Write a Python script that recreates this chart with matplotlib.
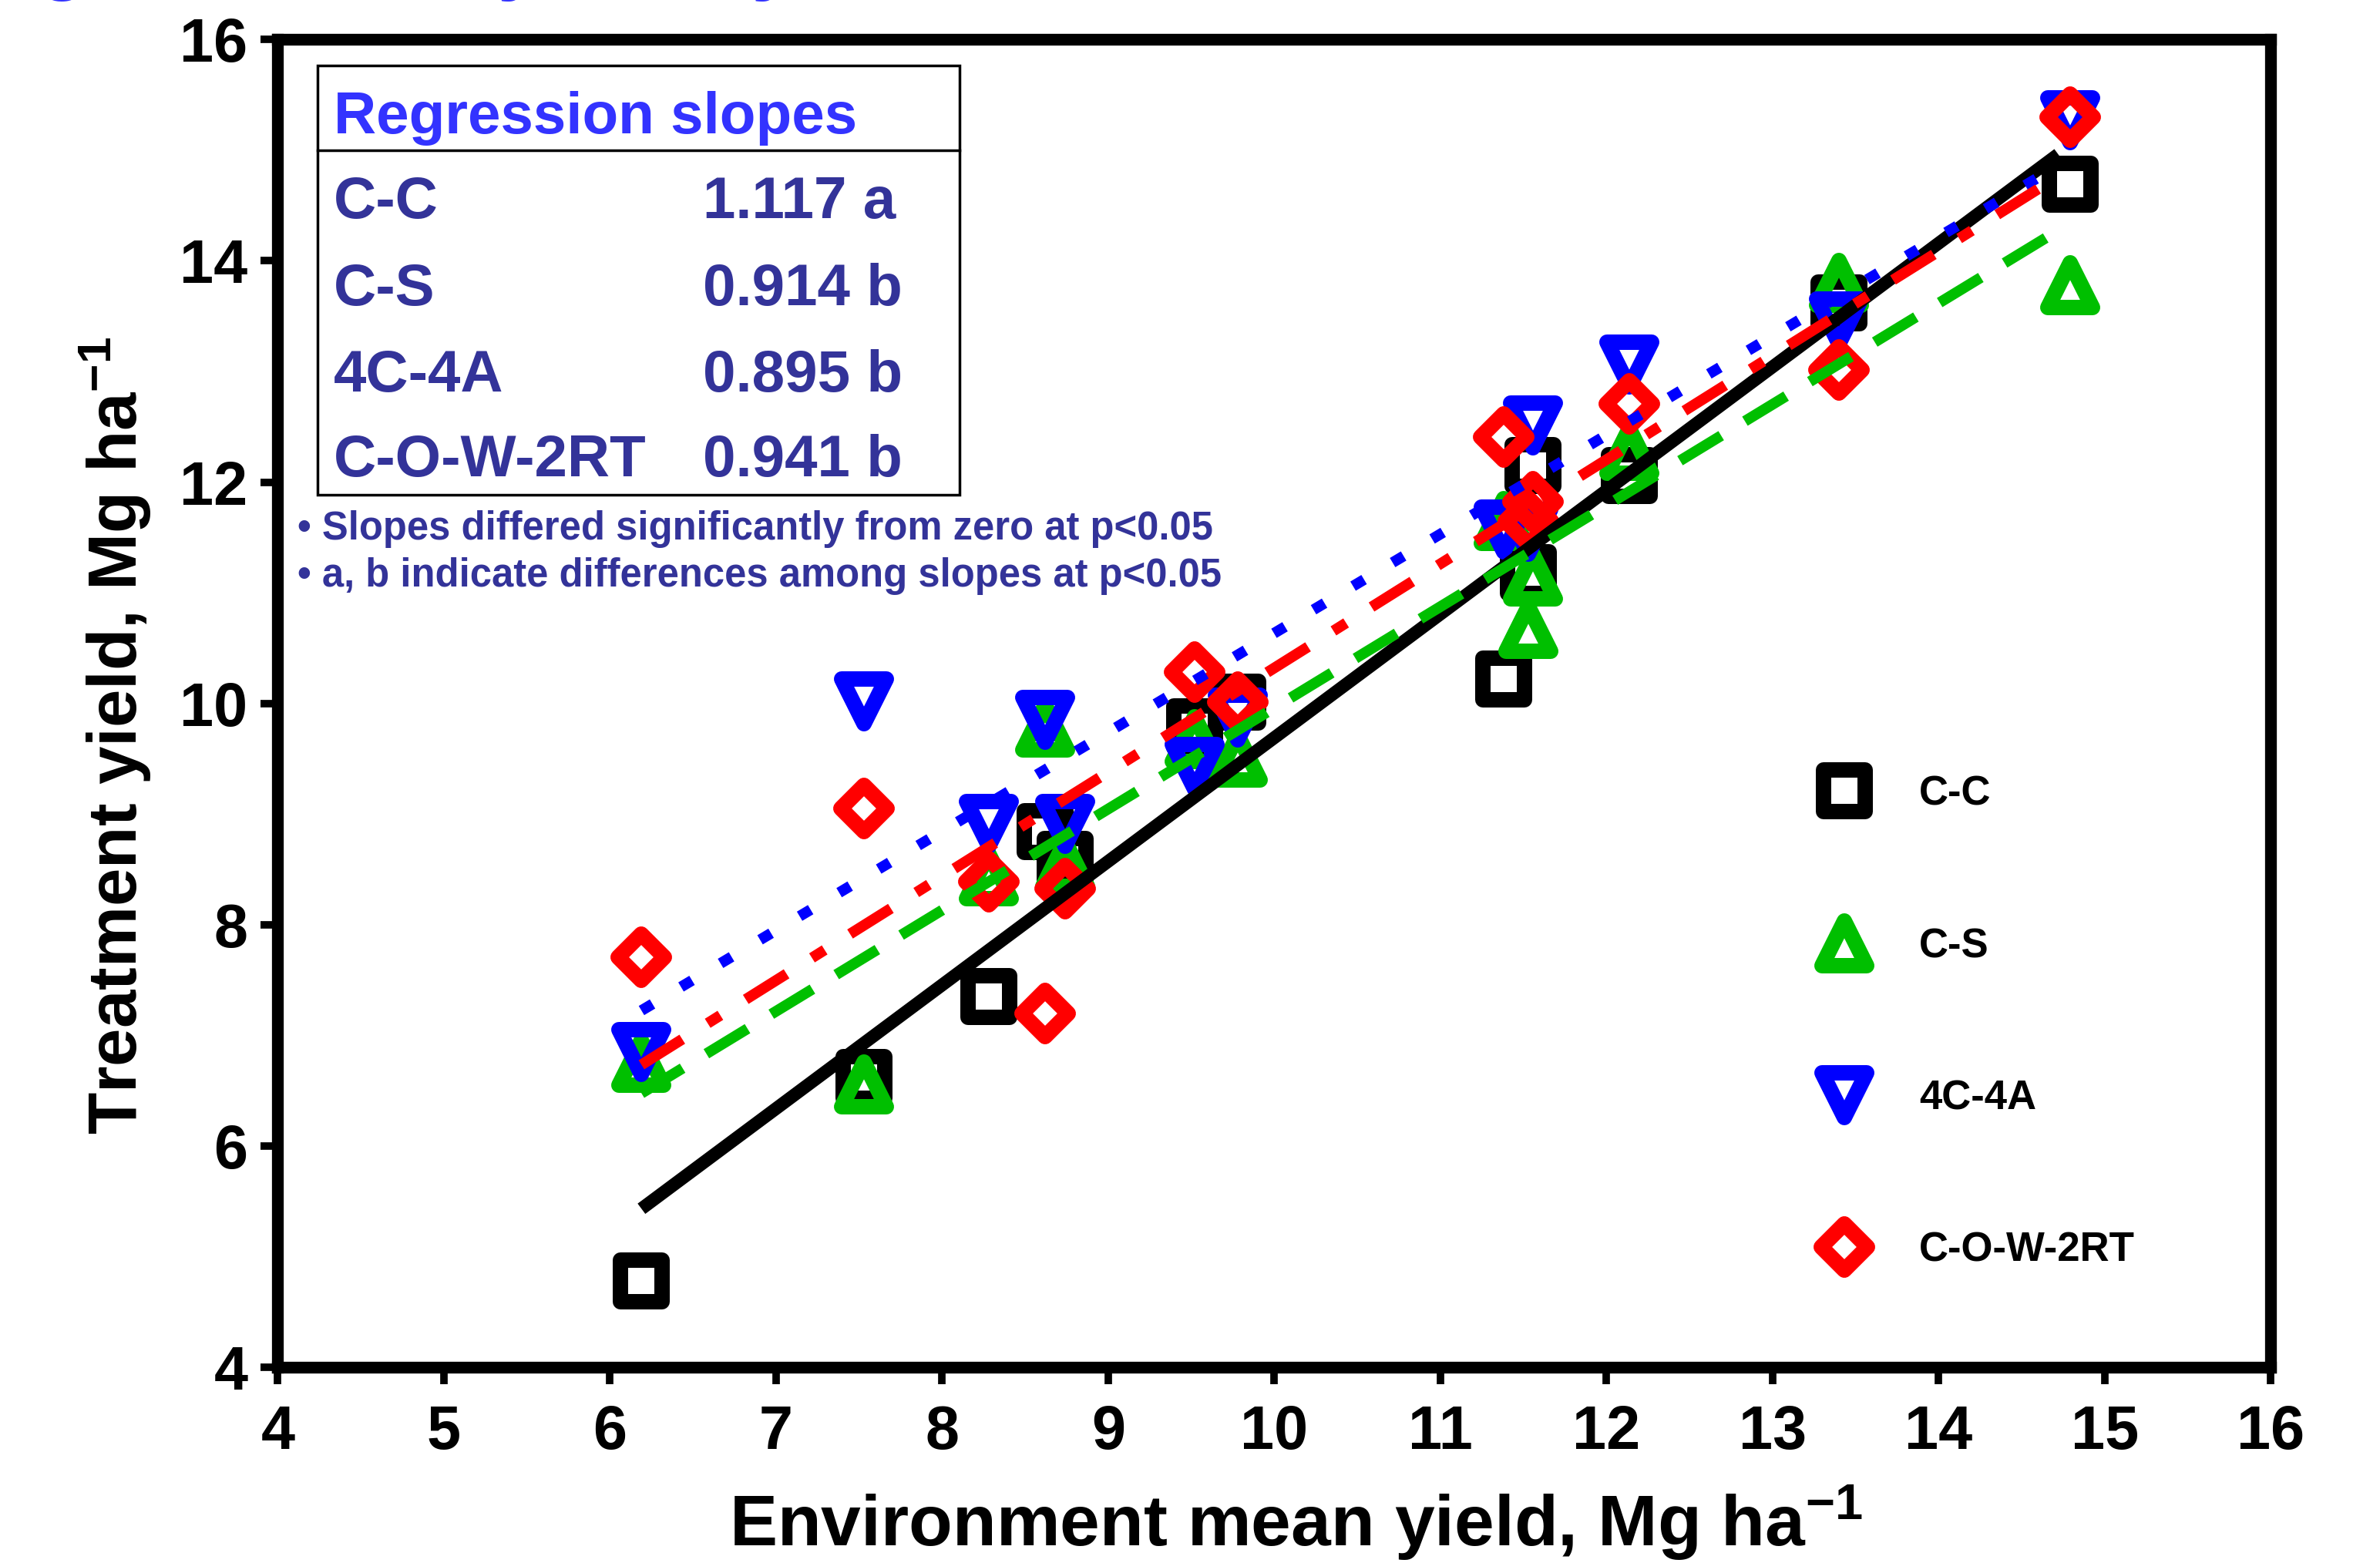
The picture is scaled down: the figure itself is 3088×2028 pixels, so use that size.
import numpy as np
import matplotlib
matplotlib.use('Agg')
import matplotlib.pyplot as plt
from matplotlib.markers import MarkerStyle
from matplotlib.patches import Rectangle

plt.rcParams['font.family'] = 'Liberation Sans'
plt.rcParams['font.weight'] = 'bold'
plt.rcParams['axes.labelweight'] = 'bold'
plt.rcParams['mathtext.fontset'] = 'custom'
plt.rcParams['mathtext.rm'] = 'Liberation Sans:bold'
plt.rcParams['mathtext.bf'] = 'Liberation Sans:bold'
plt.rcParams['mathtext.default'] = 'bf'

# environment mean yield (x), same for every rotation
env_mean = [6.19, 7.53, 8.28, 8.62, 8.74, 9.52, 9.78, 11.38, 11.53, 11.56, 12.14, 13.40, 14.79]

# treatment yields, Mg/ha
cc   = [4.78, 6.62, 7.35, 8.84, 8.59, 9.79, 10.01, 10.22, 11.18, 12.15, 12.06, 13.62, 14.69]
cs   = [6.75, 6.56, 8.44, 9.78, 8.55, 9.68, 9.51, 11.65, 10.67, 11.15, 12.28, 13.80, 13.78]
c4a4 = [6.85, 10.02, 8.91, 9.85, 8.91, 9.43, 9.87, 11.57, 11.55, 12.51, 13.06, 13.45, 15.27]
cow  = [7.71, 9.05, 8.39, 7.20, 8.33, 10.28, 10.01, 12.41, 11.65, 11.82, 12.71, 13.01, 15.30]

names = ['C-C', 'C-S', '4C-4A', 'C-O-W-2RT']
slopes = [1.117, 0.914, 0.895, 0.941]
slope_letters = ['a', 'b', 'b', 'b']
intercepts = [-1.48, 0.82, 1.685, 0.91]
fit_range = [6.19, 14.72]

notes = ['\u2022 Slopes differed significantly from zero at p<0.05',
         '\u2022 a, b indicate differences among slopes at p<0.05']

series = [cc, cs, c4a4, cow]
colors = ['black', '#00BF00', '#0000FF', '#FF0000']
markers = ['s', '^', 'v', 'D']
msizes = [39, 42, 42, 30.5]
line_w = [12, 10, 10, 10]
dashes = [None, (4.5, 2.6), (1.2, 3.1), (4.5, 2.8, 1.4, 2.8)]

fig = plt.figure(figsize=(30.88, 20.28), dpi=100)
ax = fig.add_axes([0.1167, 0.1251, 0.8374, 0.8497])

handles = []
for i in range(4):
    h, = ax.plot(env_mean, series[i], ls='none',
                 marker=MarkerStyle(markers[i], joinstyle='round'),
                 ms=msizes[i], mfc='none', mec=colors[i], mew=14.4,
                 zorder=3 + i * 0.1, label=names[i], clip_on=False)
    handles.append(h)

# regression lines
xf = np.array(fit_range)
for i in range(4):
    ln, = ax.plot(xf, intercepts[i] + slopes[i] * xf, color=colors[i], lw=line_w[i],
                  zorder=4 + i * 0.1, solid_capstyle='butt', dash_capstyle='butt')
    if dashes[i]:
        ln.set_dashes(dashes[i])

ax.set_xlim(4, 16)
ax.set_ylim(4, 16)
ax.set_xticks(range(4, 17))
ax.set_yticks(range(4, 17, 2))
for s in ax.spines.values():
    s.set_linewidth(11)
ax.tick_params(direction='out', length=16, width=7, labelsize=57)
ax.tick_params(axis='x', pad=18)
ax.tick_params(axis='y', pad=12)

ax.set_xlabel(r'Environment mean yield, Mg ha$^{-1}$', fontsize=67, labelpad=20)
ax.set_ylabel(r'Treatment yield, Mg ha$^{-1}$', fontsize=64, labelpad=25)
ax.xaxis.label.set_x(0.511)
ax.yaxis.label.set_y(0.476)

# slopes table
ax.add_patch(Rectangle((0.0198, 0.6571), 0.3222, 0.3235, transform=ax.transAxes,
                       fill=False, lw=2.5, ec='black', zorder=5))
ax.plot([0.0198, 0.342], [0.9166, 0.9166], transform=ax.transAxes, color='black', lw=2.5)
ax.text(0.0281, 0.9291, 'Regression slopes', transform=ax.transAxes, color='#3333FF',
        fontsize=55, va='baseline')
row_y = [0.8655, 0.8001, 0.7350, 0.6710]
for i in range(4):
    ax.text(0.0281, row_y[i], names[i], transform=ax.transAxes, color='#333399',
            fontsize=55, va='baseline')
    ax.text(0.2132, row_y[i], f'{slopes[i]:.3f} {slope_letters[i]}', transform=ax.transAxes,
            color='#333399', fontsize=55, va='baseline')
for t, y in zip(notes, [0.6235, 0.5879]):
    ax.text(0.0099, y, t, transform=ax.transAxes, color='#333399', fontsize=36.5, va='baseline')

ax.legend(handles=handles, loc='upper left', bbox_to_anchor=(0.7706, 0.4459),
          frameon=False, fontsize=38, handlelength=1.5, handletextpad=1.1,
          labelspacing=2.79, borderpad=0, borderaxespad=0, numpoints=1)

# slide title, cut off at the top edge
fig.text(-0.147, 1.01, 'Regressing treatment yield by environment mean', color='#3333FF',
         fontsize=75, va='baseline')

fig.savefig('out.png', dpi=100)
